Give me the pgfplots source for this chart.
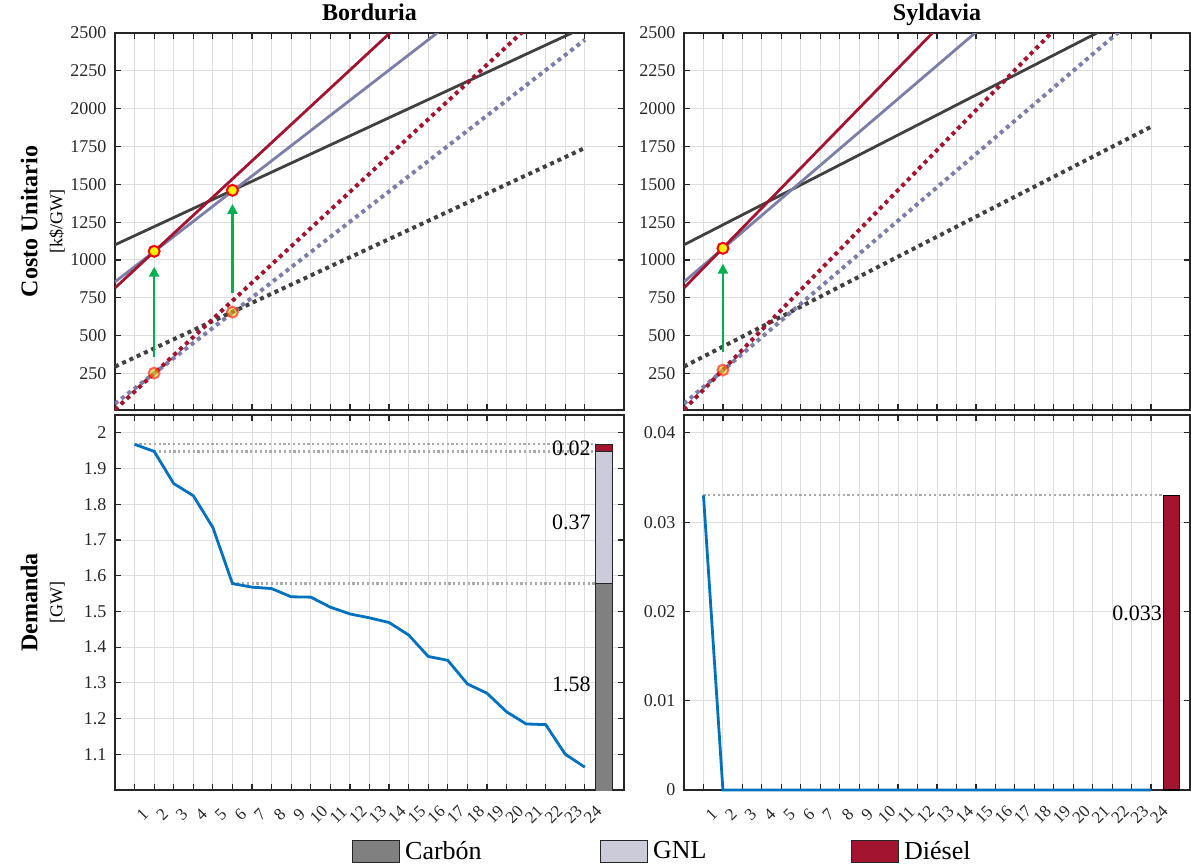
\documentclass[border=0pt]{standalone}
\usepackage{fontspec}
\setmainfont{Liberation Serif}
\usepackage{pgfplots}
\pgfplotsset{compat=1.18}
\usetikzlibrary{arrows.meta}
\definecolor{carbL}{RGB}{64,64,64}
\definecolor{gnlL}{RGB}{125,126,168}
\definecolor{dies}{RGB}{162,20,47}
\definecolor{carbB}{RGB}{128,128,128}
\definecolor{gnlB}{RGB}{203,203,217}
\definecolor{dem}{RGB}{0,114,189}
\definecolor{arr}{RGB}{0,176,80}
\definecolor{grd}{RGB}{222,222,222}
\definecolor{axc}{RGB}{38,38,38}
\definecolor{guide}{RGB}{170,170,170}

\pgfplotstableread{
x y
1 1.968
2 1.948
3 1.858
4 1.824
5 1.735
6 1.578
7 1.568
8 1.564
9 1.541
10 1.540
11 1.512
12 1.493
13 1.482
14 1.469
15 1.434
16 1.374
17 1.363
18 1.297
19 1.271
20 1.219
21 1.185
22 1.183
23 1.100
24 1.064
}\demB

\pgfplotstableread{
x y
1 0.033
2 0
3 0
4 0
5 0
6 0
7 0
8 0
9 0
10 0
11 0
12 0
13 0
14 0
15 0
16 0
17 0
18 0
19 0
20 0
21 0
22 0
23 0
24 0
}\demS

\pgfplotsset{
 base/.style={scale only axis, xmin=0, xmax=26, xtick={1,...,24},
   grid=major, major grid style={grd, line width=0.9pt},
   axis line style={axc, line width=1.3pt},
   tick style={axc, line width=1.2pt}, major tick length=6pt,
   tick align=inside, tick pos=both,
   /pgf/number format/assume math mode=true,
   /pgf/number format/1000 sep={},
   ticklabel style={font=\fontsize{18}{18}\selectfont, text=axc},
   yticklabel style={xshift=-5pt}},
 sl/.style={line width=2.8pt},
 dl/.style={line width=4pt, dash pattern=on 4pt off 4pt},
 gl/.style={guide, line width=2.2pt, dash pattern=on 2.2pt off 2.6pt},
 mk/.style={only marks, mark=*, mark size=5.5pt, mark options={fill=yellow, draw=red, line width=2pt}},
 mkt/.style={only marks, mark=*, mark size=5.5pt, mark options={fill=yellow!75!red, draw=red, line width=2pt, opacity=0.55}},
 ar/.style={arr, line width=2.5pt, -{Triangle[length=10pt,width=10pt]}},
 ttl/.style={title style={font=\fontsize{24}{24}\selectfont\bfseries, at={(axis description cs:0.5,1)}, anchor=base, yshift=7pt}},
 xrot/.style={xticklabel style={rotate=45, anchor=north, yshift=-14pt, xshift=-12pt, font=\fontsize{17}{17}\selectfont}},
 ylab/.style={ylabel style={align=center, font=\fontsize{24}{25}\selectfont, at={(axis description cs:-0.142,0.5)}, anchor=center}},
 bar/.style={legend image code/.code={\draw[##1] (0pt,-11pt) rectangle (47pt,11pt);}},
}

\begin{document}
\begin{tikzpicture}
\useasboundingbox (0pt,0pt) rectangle (1191pt,-865pt);

% ---------------- Borduria top
\begin{axis}[base, ttl, ylab, at={(115pt,-410pt)}, anchor=south west, width=509pt, height=377pt,
  ymin=8, ymax=2500, ytick={250,500,750,1000,1250,1500,1750,2000,2250,2500}, xticklabels={},
  title={Borduria},
  ylabel={\bfseries Costo Unitario\\\fontsize{18}{25}\selectfont\mdseries [k\$/GW]}]
\addplot[carbL, sl] coordinates {(0,1100) (24,2540)};
\addplot[gnlL, sl] coordinates {(0,855) (24,3255)};
\addplot[dies, sl] coordinates {(0,815) (24,3695)};
\addplot[carbL, dl] coordinates {(0,295) (24,1740)};
\addplot[gnlL, dl] coordinates {(0,50) (24,2455)};
\addplot[dies, dl] coordinates {(0,10) (24,2890)};
\addplot[ar] coordinates {(2,360) (2,955)};
\addplot[ar] coordinates {(6,780) (6,1370)};
\addplot[mkt] coordinates {(2,252) (6,655)};
\addplot[mk] coordinates {(2,1057) (6,1460)};
\end{axis}

% ---------------- Syldavia top
\begin{axis}[base, ttl, at={(684pt,-410pt)}, anchor=south west, width=506pt, height=377pt,
  ymin=8, ymax=2500, ytick={250,500,750,1000,1250,1500,1750,2000,2250,2500}, xticklabels={},
  title={Syldavia}]
\addplot[carbL, sl] coordinates {(0,1100) (24,2684)};
\addplot[gnlL, sl] coordinates {(0,855) (24,3495)};
\addplot[dies, sl] coordinates {(0,815) (24,3983)};
\addplot[carbL, dl] coordinates {(0,295) (24,1880)};
\addplot[gnlL, dl] coordinates {(0,50) (24,2690)};
\addplot[dies, dl] coordinates {(0,10) (24,3178)};
\addplot[ar] coordinates {(2,390) (2,975)};
\addplot[mkt] coordinates {(2,272)};
\addplot[mk] coordinates {(2,1077)};
\end{axis}

% ---------------- Borduria bottom
\begin{axis}[base, xrot, ylab, at={(115pt,-790pt)}, anchor=south west, width=509pt, height=375pt,
  ymin=1.0, ymax=2.05, ytick={1.1,1.2,1.3,1.4,1.5,1.6,1.7,1.8,1.9,2},
  ylabel={\bfseries Demanda\\\fontsize{18}{25}\selectfont\mdseries [GW]},
  legend style={at={(axis description cs:0.4656,-0.1627)}, anchor=west, draw=none, fill=none,
    legend columns=3, font=\fontsize{26}{26}\selectfont, inner sep=0pt,
    /tikz/every even column/.append style={column sep=0pt}}]
\addplot[gl, forget plot] coordinates {(1,1.968) (24.55,1.968)};
\addplot[gl, forget plot] coordinates {(2,1.948) (24.55,1.948)};
\addplot[gl, forget plot] coordinates {(6,1.578) (24.55,1.578)};
\addplot[dem, line width=2.8pt, forget plot] table[x=x, y=y] {\demB};
\addplot[bar, fill=carbB, draw=axc, line width=1pt] coordinates {(24.55,0) (25.43,0) (25.43,1.578) (24.55,1.578)} -- cycle;
\addlegendentry{\makebox[196pt][l]{\hspace{3pt}Carbón}}
\addplot[bar, fill=gnlB, draw=axc, line width=1pt] coordinates {(24.55,1.578) (25.43,1.578) (25.43,1.948) (24.55,1.948)} -- cycle;
\addlegendentry{\makebox[199pt][l]{\hspace{3pt}GNL}}
\addplot[bar, fill=dies, draw=axc, line width=1pt] coordinates {(24.55,1.948) (25.43,1.948) (25.43,1.968) (24.55,1.968)} -- cycle;
\addlegendentry{\hspace{3pt}Diésel}
\node[anchor=east, font=\fontsize{22}{22}\selectfont, inner sep=1pt] at (axis cs:24.35,1.958) {0.02};
\node[anchor=east, font=\fontsize{22}{22}\selectfont, inner sep=1pt] at (axis cs:24.35,1.749) {0.37};
\node[anchor=east, font=\fontsize{22}{22}\selectfont, inner sep=1pt] at (axis cs:24.35,1.295) {1.58};
\end{axis}

% ---------------- Syldavia bottom
\begin{axis}[base, xrot, at={(684pt,-790pt)}, anchor=south west, width=506pt, height=375pt,
  ymin=0, ymax=0.042, ytick={0,0.01,0.02,0.03,0.04}, scaled y ticks=false,
  yticklabel style={/pgf/number format/fixed, /pgf/number format/precision=3}, clip=false]
\addplot[gl] coordinates {(1,0.033) (24.65,0.033)};
\addplot[dem, line width=2.8pt] table[x=x, y=y] {\demS};
\addplot[fill=dies, draw=black, line width=1.2pt] coordinates {(24.65,0) (25.45,0) (25.45,0.033) (24.65,0.033)} -- cycle;
\node[anchor=east, font=\fontsize{22}{22}\selectfont, inner sep=1pt] at (axis cs:24.62,0.0198) {0.033};
\end{axis}
\end{tikzpicture}
\end{document}
